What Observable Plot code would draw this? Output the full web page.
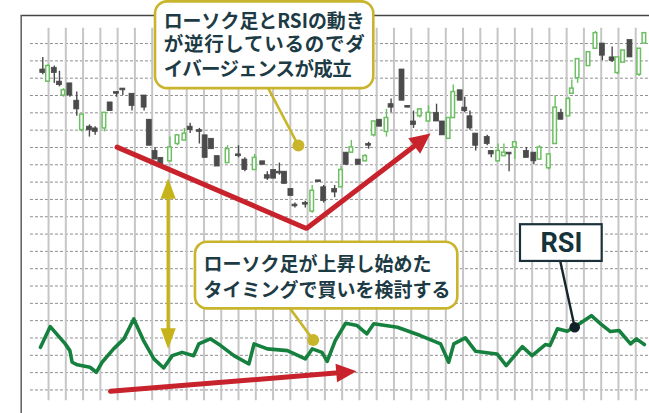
<!DOCTYPE html>
<html><head><meta charset="utf-8">
<script src="https://cdn.jsdelivr.net/npm/d3@7"></script>
<script src="https://cdn.jsdelivr.net/npm/@observablehq/plot@0.6"></script>
<style>
html,body{margin:0;padding:0;background:#fff;}
#chart svg{display:block;}
</style>
</head><body><div id="chart"></div>
<script>
// ---- candle data (t = bar position, values in price units) ----
const candleT = [0.0,0.9,2.0,2.9,3.6,4.7,5.9,6.8,8.1,9.1,10.7,11.7,12.8,13.9,15.5,17.6,18.5,19.5,20.5,22.1,23.4,24.6,25.6,27.2,28.2,29.3,30.3,32.1,34.0,35.1,36.8,38.2,39.0,40.1,41.1,42.0,43.1,43.8,45.6,46.8,47.9,48.8,50.7,51.8,52.7,53.6,54.8,56.0,56.6,57.5,58.5,59.7,60.5,62.4,63.4,64.4,65.5,67.0,68.4,69.4,70.5,71.3,72.5,73.3,74.2,75.2,77.2,77.9,79.1,80.1,81.0,82.0,84.0,85.3,86.3,87.9,89.0,90.0,91.3,91.9,92.9,94.8,96.0,97.2,98.9,99.8,100.8,102.0,103.6,104.5];
const candleOpen  = [185,178,186,178,170,177,167,150,152,151,151,166,172,174,171,170,156,138,134,132,142,144,152,150,147,145,135,131,136,133,127,132,124,127,126,126,116,107,108,103,121,117,116,117,137,137,133,132,142,147,156,149,165,185,164,155,158,155,160,155,145,157,173,163,158,148,146,138,132,135,137,140,138,137,133,128,142,160,158,171,180,187,197,200,192,183,189,202,182,200];
const candleHigh  = [192,188,187,184,174,177,172,159,153,152,160,166,172,174,171,170,156,140,134,146,147,151,154,151,147,145,135,141,141,134,136,132,126,127,131,126,116,108,109,118,121,118,118,129,137,144,133,136,143,155,156,162,168,185,164,161,162,164,165,155,157,176,173,169,161,148,147,138,142,142,137,143,140,137,141,136,170,162,169,179,191,195,207,200,198,192,196,202,197,206];
const candleLow   = [182,178,177,175,169,169,158,149,146,147,149,161,169,170,161,161,141,133,130,132,141,144,148,142,134,139,129,131,134,126,127,130,121,122,124,119,112,105,105,102,120,108,111,117,130,137,130,132,139,146,152,146,160,167,163,151,157,155,155,147,145,157,167,160,150,138,141,134,132,135,126,133,134,130,133,127,142,156,158,171,177,187,197,190,189,182,189,192,181,200];
const candleClose = [183,187,183,176,173,170,162,159,150,149,160,161,171,173,164,163,141,133,130,140,147,148,150,149,134,139,129,139,135,127,134,130,122,122,125,119,112,106,107,115,120,109,114,127,130,140,130,135,141,155,152,157,163,167,163,153,162,160,155,147,157,172,167,161,151,141,142,136,138,137,136,143,134,132,140,136,163,156,168,174,191,195,206,193,190,192,196,192,197,206];

// ---- RSI line ----
const rsiT = [-0.4,1.3,3.9,4.7,5.1,6.0,8.2,9.3,10.3,12.3,14.1,15.8,17.5,19.3,21.0,22.5,24.2,26.2,27.1,29.1,30.9,33.2,35.8,36.7,39.0,42.5,45.6,46.8,48.5,49.4,50.8,52.6,54.6,56.3,57.5,61.6,65.6,69.1,70.5,71.4,73.4,75.2,77.8,78.9,80.5,83.3,85.0,87.3,88.1,89.4,91.1,92.5,95.3,96.9,98.6,100.1,102.1,103.1,104.5];
const rsiV = [24.6,36.6,26.6,22.7,16.0,14.5,13.1,10.2,16.0,23.7,29.5,41.0,28.5,17.9,12.7,19.8,21.7,19.8,26.6,29.5,25.6,19.8,15.0,26.6,23.7,22.7,17.9,23.7,21.7,16.5,28.5,38.5,37.2,32.4,38.2,36.2,31.4,26.6,16.0,26.6,30.1,22.3,21.2,20.8,14.0,25.0,19.8,26.2,25.6,35.3,33.9,36.6,42.9,38.2,33.7,34.3,26.6,29.5,26.2];

// ---- grid ticks ----
const gridT = d3.range(1, 104, 3);      // vertical grid lines
const gridV = d3.range(0, 201, 10);     // horizontal dashed lines

// ---- annotations ----
const divergencePath = [{t:12.9,v:140.2},{t:45.8,v:93.2},{t:67.35,v:148.0}];
const rsiArrowPath = [{t:11.76,v:-0.8},{t:54.5,v:10.75}];
const gapArrowPath = [{t:21.78,v:122.3},{t:21.78,v:23.7}];
const topCalloutLines = ["ローソク足とRSIの動き", "が逆行しているのでダ", "イバージェンスが成立"];
const topCalloutLineV = [212.5, 199.6, 185.0];
const bottomCalloutText = "ローソク足が上昇し始めた\nタイミングで買いを検討する";
const calloutBox = [{x1:19.58,x2:57.5,y1:174,y2:224.05},{x1:26.52,x2:72.09,y1:46.8,y2:85.3}];
const calloutPointer = [{t1:39.2,v1:174,t2:44.4,v2:141.1},{t1:43.0,v1:46.8,t2:46.97,v2:28.9}];
const rsiLabel = {text:"RSI", x1:82.98, x2:97.17, y1:74.2, y2:95.4, t:90.1, v:84.6, pt:89.9, pv:74.2, dt:92.4, dv:36.2};

// ---- layout ----
const W = 649, H = 413, mL = 20.7, mT = 15;
const tDomain = [-3.75, 105.39];
const vDomain = [-13.6, 216.2];
const pxT = (W - mL) / (tDomain[1] - tDomain[0]);
const pxV = (H - mT) / (vDomain[1] - vDomain[0]);
const topLineFit = [[201, "spacingAndGlyphs"], [201, "spacing"], [188, "spacing"]];

const RED = "#c8232c", YEL = "#c9b52c", YEL2 = "#c6b31a", GREEN = "#6cbf62", DARK = "#4b4b4b", INK = "#1d3b45";
const JP = "'Noto Sans CJK JP', sans-serif";

const candles = candleT.map((t, i) => ({t, open: candleOpen[i], high: candleHigh[i], low: candleLow[i], close: candleClose[i]}));
const up = candles.filter(d => d.close >= d.open);
const down = candles.filter(d => d.close < d.open);
const rsi = rsiT.map((t, i) => ({t, v: rsiV[i]}));
const hw = 0.43;

function headSymbol(len, half) {
  return {draw(ctx) { ctx.moveTo(0, 0); ctx.lineTo(-half, len); ctx.lineTo(half, len); ctx.closePath(); }};
}
function angleOf(a, b) {
  const dx = (b.t - a.t) * pxT, dy = -(b.v - a.v) * pxV;
  return Math.atan2(dx, -dy) * 180 / Math.PI;
}
function shorten(a, b, px) {
  const dx = (b.t - a.t) * pxT, dy = (b.v - a.v) * pxV;
  const k = px / Math.hypot(dx, dy);
  return {t: b.t - (b.t - a.t) * k, v: b.v - (b.v - a.v) * k};
}
function arrowShaft(path, px) {
  const n = path.length;
  return [...path.slice(0, n - 1), shorten(path[n - 2], path[n - 1], px)];
}
function arrowHead(path) {
  const n = path.length;
  return [{t: path[n - 1].t, v: path[n - 1].v, a: angleOf(path[n - 2], path[n - 1])}];
}
const redHead = headSymbol(20.5, 9.8);
const yelHead = headSymbol(20.6, 7.6);
const gapRev = [...gapArrowPath].reverse();
const gapShaft = [shorten(gapArrowPath[1], gapArrowPath[0], 12), shorten(gapArrowPath[0], gapArrowPath[1], 12)];
const gapHeads = [...arrowHead(gapArrowPath), ...arrowHead(gapRev)];

const callouts = calloutBox.map((b, i) => ({...b, ...calloutPointer[i]}));
const topLines = topCalloutLines.map((text, i) => ({text, t: 21.0, v: topCalloutLineV[i]}));

const marks = [
  Plot.ruleY(gridV, {y: d => d, x1: -2.14, x2: tDomain[1], stroke: "#8e8e8e", strokeWidth: 1, strokeDasharray: "3,2"}),
  Plot.ruleX(gridT, {x: d => d, y1: -6.2, y2: 208.8, stroke: "#c6c6c6", strokeWidth: 2}),
  Plot.ruleY([vDomain[1]], {stroke: "#444", strokeWidth: 1.6}),
  Plot.ruleX([tDomain[0]], {stroke: "#666", strokeWidth: 1.6}),
  Plot.ruleX(down, {x: "t", y1: "low", y2: "high", stroke: DARK, strokeWidth: 1.4}),
  Plot.ruleX(up, {x: "t", y1: "low", y2: "high", stroke: GREEN, strokeWidth: 1.4}),
  Plot.rect(down, {x1: d => d.t - hw, x2: d => d.t + hw, y1: "open", y2: "close", fill: DARK, stroke: DARK, strokeWidth: 0.8}),
  Plot.rect(up, {x1: d => d.t - hw + 0.12, x2: d => d.t + hw - 0.12, y1: "open", y2: "close", fill: "white", stroke: GREEN, strokeWidth: 1.5}),
  Plot.line(arrowShaft(divergencePath, 12), {x: "t", y: "v", stroke: RED, strokeWidth: 5, strokeLinejoin: "miter"}),
  Plot.dot(arrowHead(divergencePath), {x: "t", y: "v", rotate: "a", symbol: redHead, fill: RED, stroke: "none"}),
  Plot.line(gapShaft, {x: "t", y: "v", stroke: YEL2, strokeWidth: 3.3}),
  Plot.dot(gapHeads, {x: "t", y: "v", rotate: "a", symbol: yelHead, fill: YEL2, stroke: "none"}),
  Plot.line(rsi, {x: "t", y: "v", stroke: "#16803f", strokeWidth: 3.6, strokeLinejoin: "round", strokeLinecap: "round"}),
  Plot.line(arrowShaft(rsiArrowPath, 12), {x: "t", y: "v", stroke: RED, strokeWidth: 5}),
  Plot.dot(arrowHead(rsiArrowPath), {x: "t", y: "v", rotate: "a", symbol: headSymbol(20.3, 9.3), fill: RED, stroke: "none"}),
  Plot.link(callouts, {x1: "t1", y1: "v1", x2: "t2", y2: "v2", stroke: YEL, strokeWidth: 2.6}),
  Plot.rect(callouts, {x1: "x1", x2: "x2", y1: "y1", y2: "y2", fill: "white", stroke: YEL, strokeWidth: 2.6, rx: 12}),
  Plot.dot(callouts, {x: "t2", y: "v2", r: 6, fill: YEL, stroke: "none"}),
  Plot.text(topLines, {x: "t", y: "v", text: "text", textAnchor: "start", fontSize: 19.5, fontWeight: 700, fontFamily: JP, fill: INK}),
  Plot.text([bottomCalloutText], {x: 27.9, y: 66.1, text: d => d, textAnchor: "start", lineAnchor: "middle", lineHeight: 1.38, fontSize: 19, fontWeight: 700, fontFamily: JP, fill: INK}),
  Plot.link([rsiLabel], {x1: "pt", y1: "pv", x2: "dt", y2: "dv", stroke: "#14262c", strokeWidth: 2.4}),
  Plot.rect([rsiLabel], {x1: "x1", x2: "x2", y1: "y1", y2: "y2", fill: "white", stroke: "#1b3038", strokeWidth: 2.2}),
  Plot.dot([rsiLabel], {x: "dt", y: "dv", r: 5.3, fill: "#102228", stroke: "none"}),
  Plot.text([rsiLabel], {x: "t", y: "v", text: "text", fontSize: 27, fontWeight: 700, fontFamily: "Roboto, sans-serif", fill: "#16323a"})
];

const chart = Plot.plot({
  width: W, height: H,
  marginLeft: mL, marginTop: mT, marginRight: 0, marginBottom: 0,
  x: {domain: tDomain, axis: null},
  y: {domain: vDomain, axis: null},
  style: {background: "white"},
  marks
});
// fit the three lines of the top callout to the widths seen in the reference
d3.select(chart).selectAll("text").each(function() {
  const i = topCalloutLines.indexOf(this.textContent);
  if (i >= 0) {
    this.setAttribute("textLength", topLineFit[i][0]);
    this.setAttribute("lengthAdjust", topLineFit[i][1]);
  }
});
document.getElementById("chart").appendChild(chart);
</script>
</body></html>
